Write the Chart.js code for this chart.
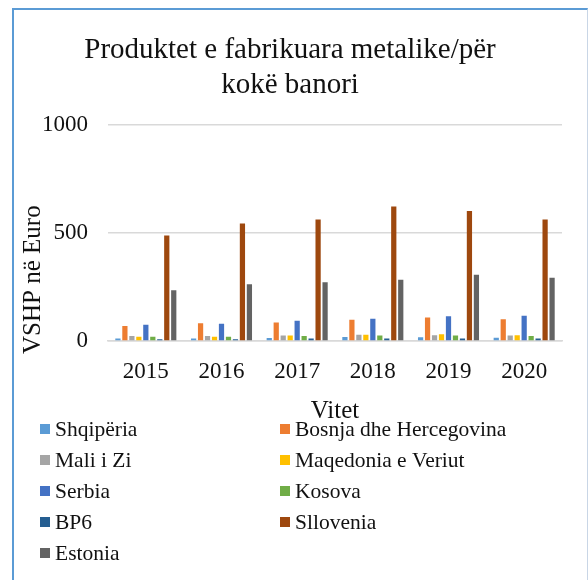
<!DOCTYPE html>
<html>
<head>
<meta charset="utf-8">
<script src="https://cdn.jsdelivr.net/npm/chart.js@4"></script>
<style>
  body { margin: 0; background: #fff; }
  #frame {
    position: absolute; left: 12px; top: 8px; width: 573px; height: 580px;
    border-left: 2px solid #5B9BD5; border-top: 2px solid #5B9BD5;
    border-right: 1px solid #c9d6e6;
  }
  #wrap { position: absolute; left: 0; top: 0; width: 573px; height: 570px; }
</style>
</head>
<body>
<div id="frame">
  <div id="wrap"><canvas id="chart"></canvas></div>
</div>
<script>
const years = ['2015', '2016', '2017', '2018', '2019', '2020'];
const shqiperia = [11, 12, 14, 18, 17, 15];
const bosnja = [69, 82, 86, 98, 109, 100];
const maliZi = [23, 23, 25, 29, 26, 25];
const maqedonia = [20, 20, 25, 29, 31, 26];
const serbia = [75, 80, 94, 103, 114, 117];
const kosova = [20, 20, 23, 25, 25, 23];
const bp6 = [8, 8, 11, 12, 12, 12];
const sllovenia = [488, 543, 562, 622, 601, 562];
const estonia = [235, 262, 272, 283, 306, 292];

const serif = '"Liberation Serif", "Times New Roman", serif';

const series = [
    ['Shqipëria', shqiperia, '#5B9BD5'],
    ['Bosnja dhe Hercegovina', bosnja, '#ED7D31'],
    ['Mali i Zi', maliZi, '#A5A5A5'],
    ['Maqedonia e Veriut', maqedonia, '#FFC000'],
    ['Serbia', serbia, '#4472C4'],
    ['Kosova', kosova, '#70AD47'],
    ['BP6', bp6, '#255E91'],
    ['Sllovenia', sllovenia, '#9E480E'],
    ['Estonia', estonia, '#636363']
];

// two-column legend under the chart, like the Excel one
const gridLegend = {
    id: 'gridLegend',
    afterDraw(chart) {
        const c = chart.ctx;
        c.save();
        c.font = '21.5px ' + serif;
        c.textBaseline = 'middle';
        c.fillStyle = '#111';
        chart.data.datasets.forEach((d, i) => {
            const x = i % 2 === 0 ? 26 : 266;
            const y = 419 + Math.floor(i / 2) * 31;
            c.fillStyle = d.backgroundColor;
            c.fillRect(x, y - 5, 10, 10);
            c.fillStyle = '#111';
            c.fillText(d.label, x + 15, y + 1);
        });
        c.restore();
    }
};

const ctx = document.getElementById('chart').getContext('2d');

const chart = new Chart(ctx, {
    type: 'bar',
    data: {
        labels: years,
        datasets: series.map(s => ({
            label: s[0],
            data: s[1],
            backgroundColor: s[2],
            barPercentage: 0.75,
            categoryPercentage: 0.83
        }))
    },
    plugins: [gridLegend],
    options: {
        responsive: true,
        maintainAspectRatio: false,
        animation: false,
        layout: { padding: { left: 4, right: 25, top: 23, bottom: 156 } },
        plugins: {
            legend: { display: false },
            tooltip: { enabled: false },
            title: {
                display: true,
                text: ['Produktet e fabrikuara metalike/për', 'kokë banori'],
                color: '#111',
                font: { family: serif, size: 29, weight: 'normal', lineHeight: 1.2 },
                padding: { top: 0, bottom: 22 }
            }
        },
        scales: {
            y: {
                min: 0,
                max: 1000,
                afterFit: scale => { scale.width = 90; },
                ticks: {
                    stepSize: 500, color: '#111', padding: 20,
                    font: { family: serif, size: 23 },
                    callback: v => String(v)
                },
                grid: { color: '#d9d9d9', lineWidth: 1.5, drawTicks: false },
                border: { display: false },
                title: {
                    display: true, text: 'VSHP në Euro' + '\u00a0'.repeat(15), color: '#111',
                    font: { family: serif, size: 25 }, padding: { top: 0, bottom: 0 }
                }
            },
            x: {
                afterFit: scale => { scale.height = 83; },
                ticks: { color: '#111', padding: 17, font: { family: serif, size: 23 } },
                grid: { display: false, drawTicks: false },
                border: { color: '#d9d9d9', width: 1.5 },
                title: {
                    display: true, text: 'Vitet', color: '#111',
                    font: { family: serif, size: 25 }, padding: { top: 0, bottom: -2 }
                }
            }
        }
    }
});
</script>
</body>
</html>
